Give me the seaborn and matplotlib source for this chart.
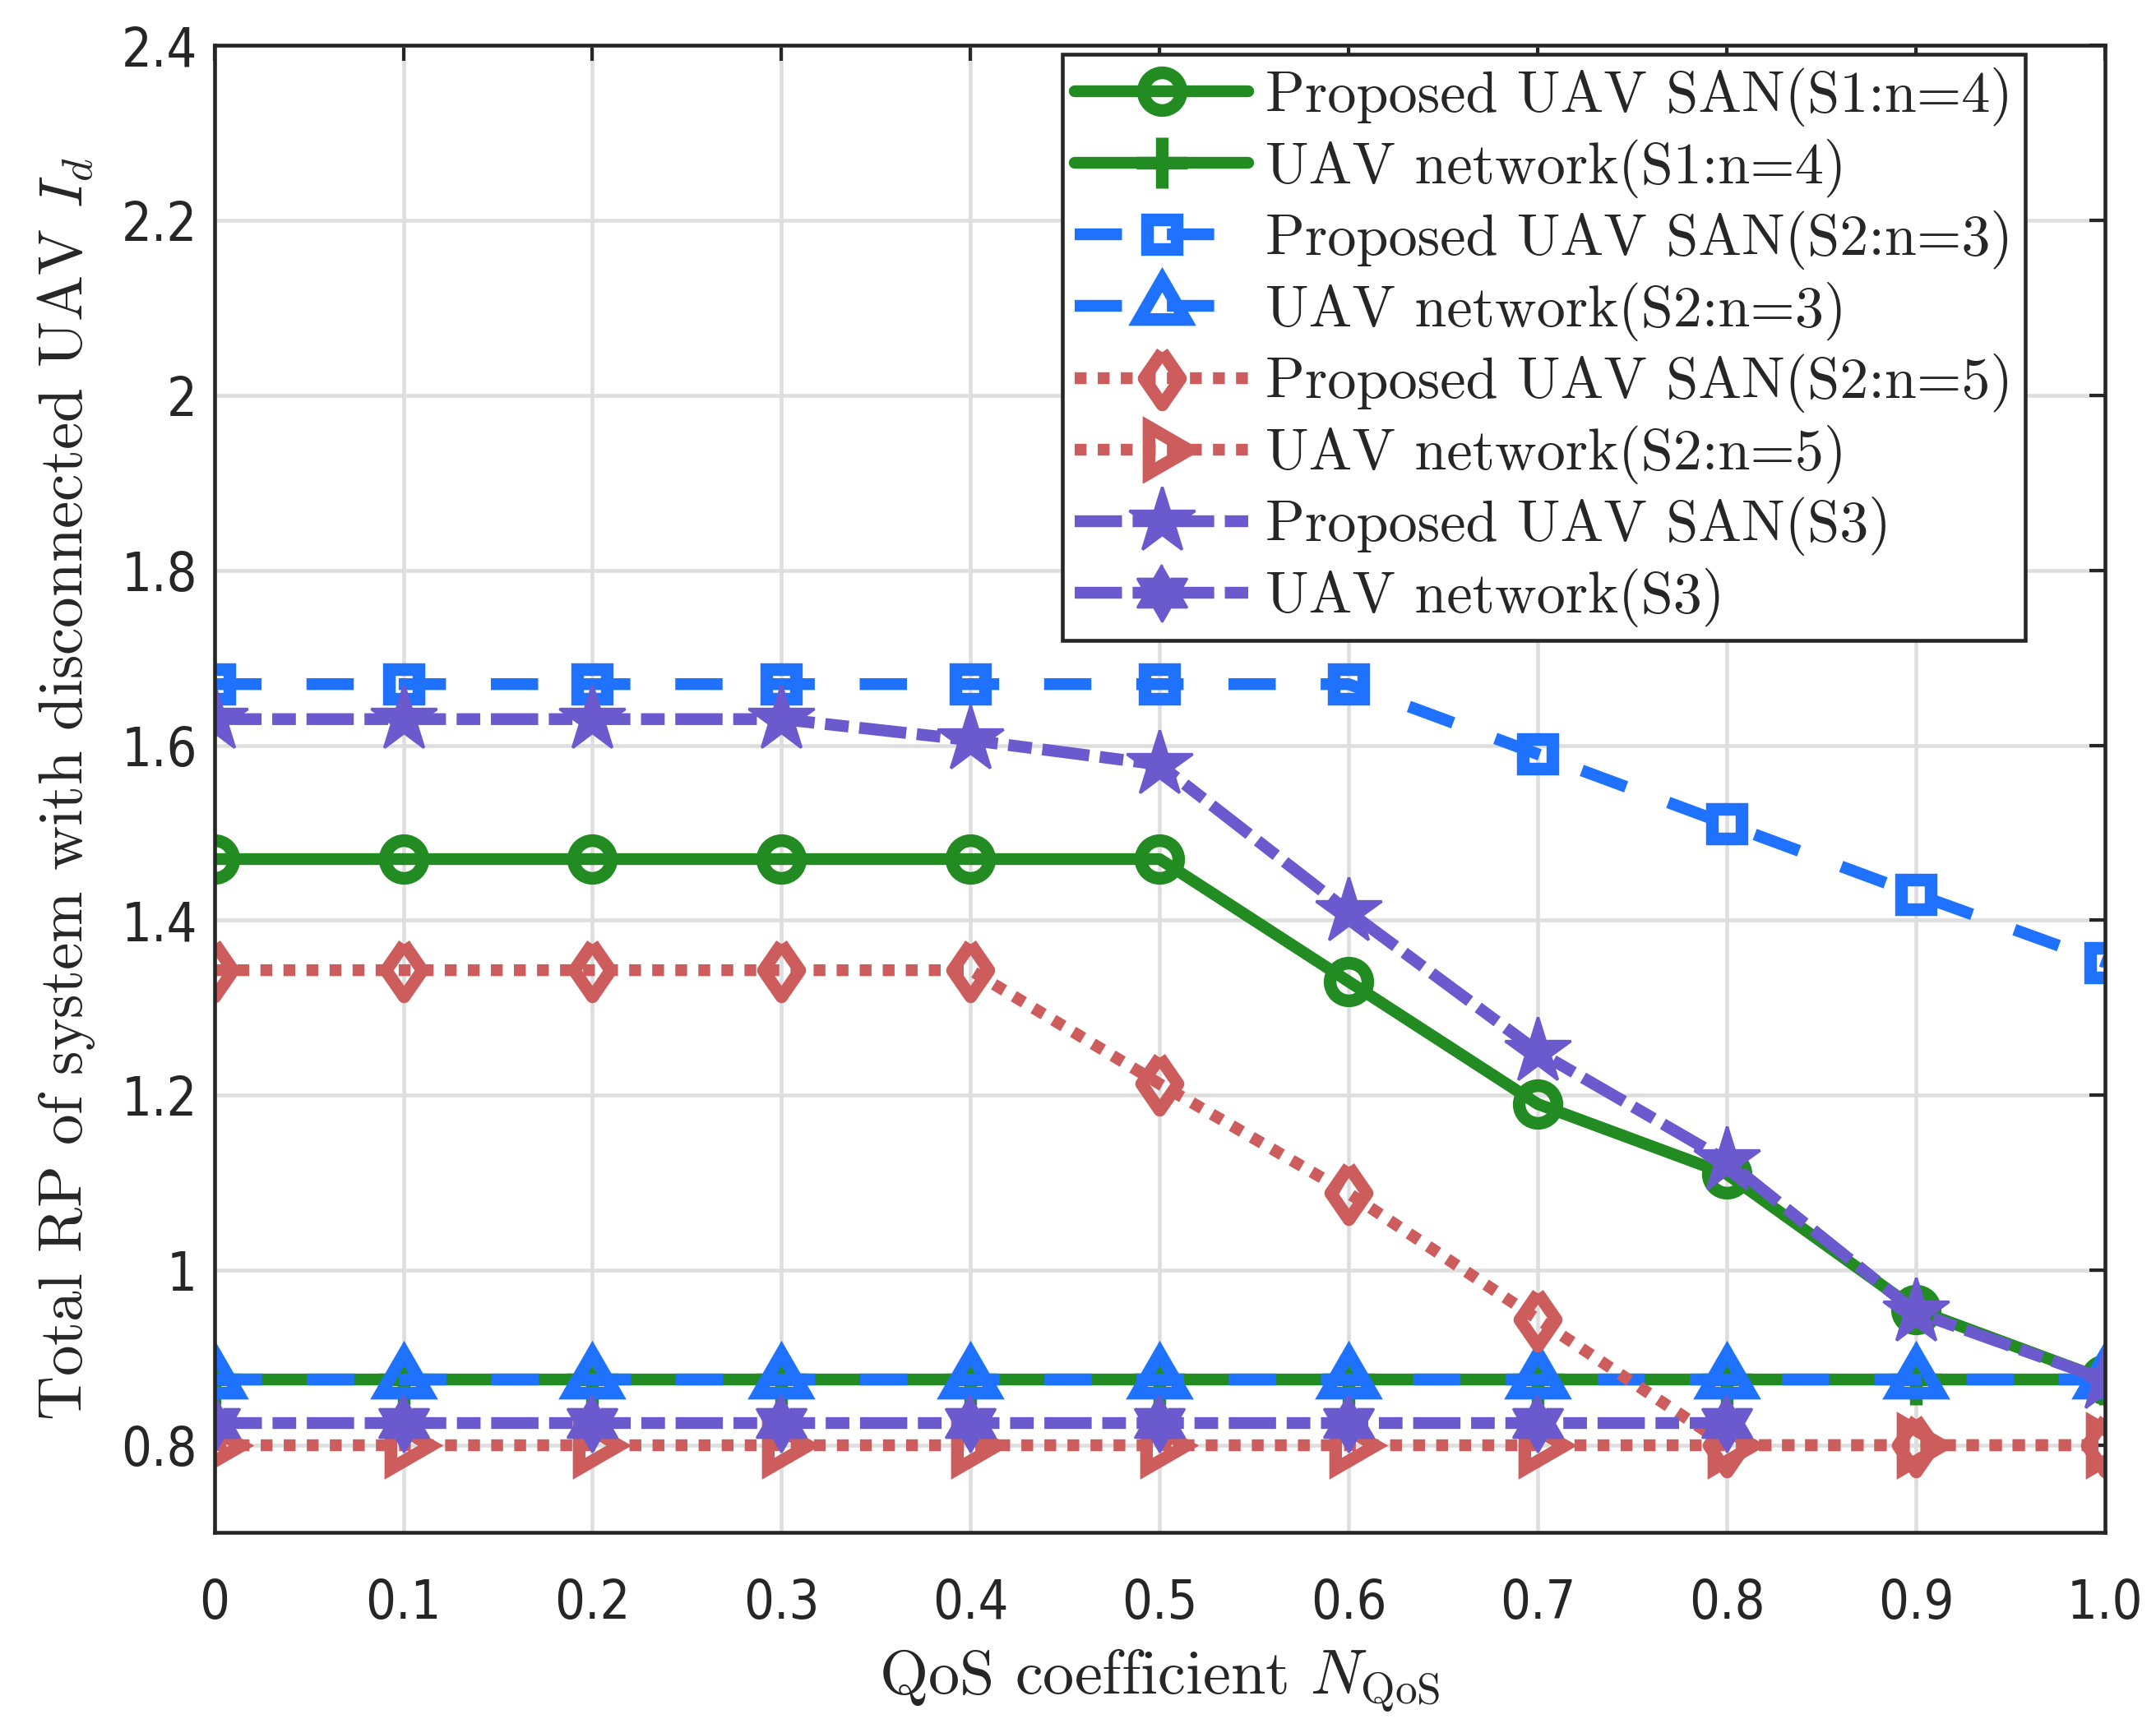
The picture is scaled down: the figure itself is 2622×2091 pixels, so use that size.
import numpy as np
import pandas as pd
import seaborn as sns
import matplotlib.pyplot as plt
from matplotlib import font_manager as fm
from matplotlib.markers import MarkerStyle

# QoS coefficient values
qos = [0, 0.1, 0.2, 0.3, 0.4, 0.5, 0.6, 0.7, 0.8, 0.9, 1.0]

# Total RP for each scheme
s1_san = [1.47, 1.47, 1.47, 1.47, 1.47, 1.47, 1.33, 1.19, 1.11, 0.955, 0.875]
s1_uav = [0.875] * 11
s2n3_san = [1.67, 1.67, 1.67, 1.67, 1.67, 1.67, 1.67, 1.59, 1.51, 1.43, 1.352]
s2n3_uav = [0.875] * 11
s2n5_san = [1.343, 1.343, 1.343, 1.343, 1.343, 1.213, 1.088, 0.944, 0.8, 0.8, 0.8]
s2n5_uav = [0.8] * 11
s3_san = [1.63, 1.63, 1.63, 1.63, 1.606, 1.578, 1.41, 1.25, 1.125, 0.952, 0.875]
s3_qos_uav = [0, 0.1, 0.2, 0.3, 0.4, 0.5, 0.6, 0.7, 0.8]
s3_uav = [0.825] * 9

labels = ['Proposed UAV SAN(S1:n=4)', 'UAV network(S1:n=4)',
          'Proposed UAV SAN(S2:n=3)', 'UAV network(S2:n=3)',
          'Proposed UAV SAN(S2:n=5)', 'UAV network(S2:n=5)',
          'Proposed UAV SAN(S3)', 'UAV network(S3)']
xtick_labels = ['0', '0.1', '0.2', '0.3', '0.4', '0.5', '0.6', '0.7', '0.8', '0.9', '1.0']
yticks = [0.8, 1.0, 1.2, 1.4, 1.6, 1.8, 2.0, 2.2, 2.4]
ytick_labels = ['0.8', '1', '1.2', '1.4', '1.6', '1.8', '2', '2.2', '2.4']

green = '#228b22'
blue = '#1f72ff'
red = '#cd5c5c'
purple = '#6a5acd'

# MATLAB-like marker shapes
ang = np.deg2rad(90 + 30 * np.arange(12))
rad = np.where(np.arange(12) % 2 == 0, 1.0, 0.577)
hexagram = MarkerStyle(np.column_stack([rad * np.cos(ang), rad * np.sin(ang)]))
diamond = MarkerStyle(np.array([[0, 1], [0.69, 0], [0, -1], [-0.69, 0], [0, 1]]),
                      joinstyle='miter')
tri_up = MarkerStyle((3, 0, 0))
tri_right = MarkerStyle((3, 0, -90))

lw = 3.45
solid = '-'
dashed = (0, (4.0, 3.8))
dotted = (0, (1.0, 0.95))
dashdot = (0, (4.0, 0.9, 2.0, 0.9))

series = [
    (qos, s1_san, green, solid, 'o', 11, False),
    (qos, s1_uav, green, solid, '+', 15, False),
    (qos, s2n3_san, blue, dashed, 's', 8.5, False),
    (qos, s2n3_uav, blue, dashed, tri_up, 15.5, False),
    (qos, s2n5_san, red, dotted, diamond, 15.4, False),
    (qos, s2n5_uav, red, dotted, tri_right, 15.5, False),
    (qos, s3_san, purple, dashdot, '*', 20, True),
    (s3_qos_uav, s3_uav, purple, dashdot, hexagram, 16.5, True),
]

sns.set_style('white')
plt.rcParams['font.family'] = ['Liberation Sans', 'DejaVu Sans']
plt.rcParams['mathtext.fontset'] = 'cm'

# narrow sans for tick labels, like MATLAB's Helvetica
tick_font = None
for f in fm.fontManager.ttflist:
    if f.name == 'Liberation Sans Narrow' and f.weight in (400, 'normal', 'regular') and f.style == 'normal':
        tick_font = fm.FontProperties(fname=f.fname)
        break
if tick_font is None:
    for f in fm.fontManager.ttflist:
        if 'Condensed' in f.fname and f.name in ('DejaVu Sans', 'Roboto', 'Roboto Condensed', 'Open Sans') \
                and 'Bold' not in f.fname and 'Oblique' not in f.fname and 'Italic' not in f.fname:
            tick_font = fm.FontProperties(fname=f.fname)
            break
if tick_font is None:
    tick_font = fm.FontProperties(family='Liberation Sans')
tick_font.set_size(15.5)

fig = plt.figure(figsize=(2622 / 300, 2091 / 300), dpi=300)
ax = fig.add_axes([0.0994, 0.1084, 0.8769, 0.8651])

for (x, y, c, ls, m, ms, filled), lab in zip(series, labels):
    sns.lineplot(x=x, y=y, ax=ax, color=c, linestyle=ls, linewidth=lw,
                 marker=m, label=lab, errorbar=None, sort=False)
    line = ax.lines[-1]
    line.set_markersize(ms)
    line.set_markerfacecolor(c if filled else 'none')
    line.set_markeredgecolor(c)
    line.set_markeredgewidth(0.8 if filled else 3.7)
    line.set_dash_capstyle('butt')

ax.set_xlim(0, 1)
ax.set_ylim(0.7, 2.4)
ax.set_xticks(qos)
ax.set_xticklabels(xtick_labels, fontproperties=tick_font)
ax.set_yticks(yticks)
ax.set_yticklabels(ytick_labels, fontproperties=tick_font)
ax.tick_params(direction='in', length=4.5, width=1.0,
               colors='#262626', top=True, right=True)
ax.tick_params(axis='x', pad=13)
ax.tick_params(axis='y', pad=5)
ax.grid(True, color='#dedede', linewidth=1.1)
ax.set_axisbelow(True)
for sp in ax.spines.values():
    sp.set_color('#262626')
    sp.set_linewidth(1.1)

ax.set_xlabel(r'QoS coefficient $N_{\mathrm{QoS}}$', fontfamily='cmr10',
              fontsize=18.3, labelpad=5)
ax.set_ylabel(r'Total RP of system with disconnected UAV $I_d$', fontfamily='cmr10',
              fontsize=18.0, labelpad=7)

leg = ax.legend(loc='upper right', bbox_to_anchor=(0.958, 0.994),
                prop={'family': 'cmr10', 'size': 16.85},
                handlelength=3.0, handletextpad=0.3, labelspacing=0.215,
                borderpad=0.22, borderaxespad=0, fancybox=False,
                framealpha=1, edgecolor='#262626')
leg.get_frame().set_linewidth(1.1)

fig.savefig('out.png', dpi=300)
